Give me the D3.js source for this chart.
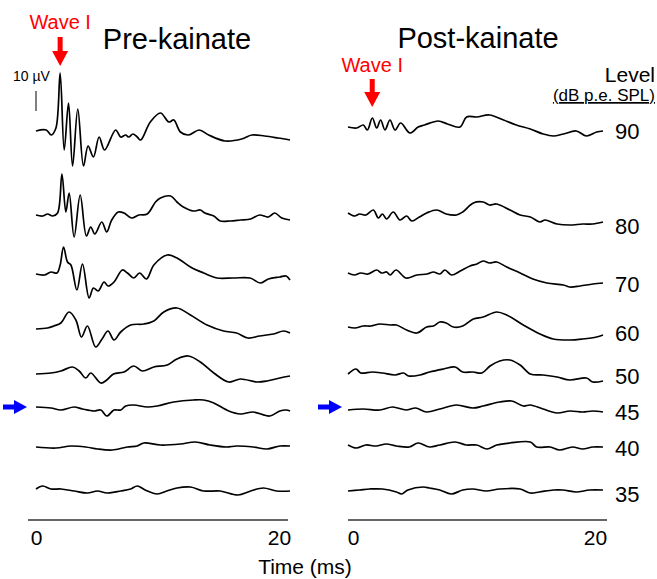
<!DOCTYPE html>
<html>
<head>
<meta charset="utf-8">
<script src="https://cdn.jsdelivr.net/npm/d3@7"></script>
<style>
  body { margin: 0; background: #fff; }
  text { font-family: Arial, "Liberation Sans", sans-serif; }
</style>
</head>
<body>
<svg id="chart" width="657" height="579"></svg>
<script>
"use strict";

// sound levels (dB p.e. SPL), top to bottom
var levels = [90, 80, 70, 60, 50, 45, 40, 35]
var timeTicks = [0, 20]
var waveI = 1.9        // ms, latency marked by the red arrows
var scaleBarUv = 10

// traces as [time (ms), amplitude (µV)]
var pre90 = [[0,-1],[0.8,-0.5],[1.2,-3],[1.57,0.5],[1.9,28],[2.22,-10.5],[2.56,13],[2.88,-18.5],[3.29,10],[3.74,-18.5],[4.1,-8.5],[4.52,-14],[4.97,-4],[5.4,-10.5],[6.27,-0.5],[6.67,-4],[7.06,-3],[7.3,-4],[7.63,-2.5],[7.97,-4],[8.24,-5.5],[9.0,3.5],[9.8,8],[10.46,3.5],[10.85,4.5],[11.37,-1.5],[12.0,-3],[12.86,-0.5],[13.6,-3],[14.9,-6],[16.2,-5],[17.0,-3],[18.0,-3.5],[19.06,-4.5],[20,-5.5]]
var pre80 = [[0,-0.5],[0.52,-1],[0.91,0],[1.31,-1],[1.7,0.5],[2.04,20],[2.35,1],[2.61,10.5],[3.0,-11.5],[3.48,9.5],[3.97,-11],[4.31,-6.5],[4.63,-10],[5.18,-4],[5.57,-9],[5.96,-3],[6.48,1],[6.93,0.5],[7.53,-2],[8.1,-0.5],[8.76,0],[9.41,6],[9.8,8],[10.6,9],[11.1,6],[11.6,3.5],[12.4,1.5],[12.94,2],[13.3,0.5],[14.0,-1],[14.5,-3.5],[15.3,-3.5],[16.1,-3],[16.9,-2.5],[17.6,-0.5],[18.3,-1.5],[18.8,0.5],[19.35,-2],[20,-3]]
var pre70 = [[0,0],[0.65,-0.5],[1.18,1],[1.65,0.5],[1.9,4.5],[2.17,13.5],[2.48,6],[2.75,4.5],[3.22,-8],[3.66,5],[4.18,-12],[4.52,-7],[4.89,-8.5],[5.36,-4],[5.67,-6],[6.14,-4],[6.8,2],[7.2,0.5],[7.7,-2],[8.16,0.5],[8.7,-2.5],[9.28,4.5],[10.33,9.5],[11.1,8],[12.16,3.5],[13.2,0.5],[14.25,-2],[15.55,-2],[16.86,-2],[17.65,-4.5],[18.3,-2.5],[19.2,-1.5],[19.7,-1],[20,-3]]
var pre60 = [[0,-0.5],[0.9,0],[1.4,1],[1.96,2.5],[2.6,8],[3.14,4],[3.58,-4.5],[4.05,1],[4.7,-9.5],[5.2,-5.5],[5.67,-1.5],[6.14,-6],[6.67,-2],[7.45,1.5],[8.5,2],[9.28,3.5],[10.06,8],[11.1,10],[12.16,6.5],[13.47,1.5],[14.77,-1.5],[15.8,-2.5],[16.7,-5],[17.6,-4],[18.7,-3],[19.5,-1.5],[20,-2.5]]
var pre50 = [[0,0],[1.18,0.5],[1.96,1.5],[2.88,3.5],[3.4,1.5],[3.92,-2],[4.31,0.5],[5.1,-4.5],[5.57,-3],[6.1,0],[6.93,1],[7.7,4],[8.37,1.5],[9.28,3.5],[10.33,4.5],[11.1,7.5],[12.0,9],[12.94,6],[14.0,0.5],[15.17,-4],[16.1,-2.5],[17.4,-4],[18.2,-3.5],[19.2,-2],[20,-1]]
var pre45 = [[0,0.5],[1.18,0],[1.96,-1],[3.0,0.5],[3.66,-0.5],[4.57,-1.5],[5.1,-1],[5.57,-4],[6.14,-1],[6.67,-1],[7.06,1],[7.7,1.5],[8.76,0.5],[9.54,1],[10.85,3],[12.4,4],[13.2,4],[14.0,2.5],[15.17,-1.5],[16.1,-3],[17.1,-2],[18.4,-4],[19.2,-1.5],[19.7,-1],[20,-1.5]]
var pre40 = [[0,-0.5],[1.57,-1],[2.75,0],[3.92,-0.5],[4.84,-1.5],[6.0,-2],[7.2,-0.5],[7.97,0],[8.5,1.5],[9.8,0.5],[11.37,1],[12.55,2],[13.7,0.5],[15.0,-0.5],[15.8,0],[17.1,-0.5],[18.2,-1.5],[19.2,0],[20,0]]
var pre35 = [[0,0.5],[0.52,2],[1.18,0.5],[1.96,0.5],[3.0,-0.5],[4.05,-1.5],[4.84,-0.5],[5.6,-1.5],[6.67,-0.5],[7.45,0.5],[7.97,2],[8.6,0],[9.54,-2],[10.3,-0.5],[11.1,1],[12.16,1.5],[13.2,-0.5],[14.5,-0.5],[15.9,-2.5],[16.9,-0.5],[17.9,1],[18.95,-0.5],[20,-0.5]]

var post90 = [[0,1],[0.68,0.5],[1.2,2],[1.52,-0.5],[1.91,5.5],[2.25,0.5],[2.56,4.5],[2.9,-0.5],[3.29,4.5],[3.69,-0.5],[4.13,3],[4.86,-2],[5.5,1],[6.0,2],[7.08,4],[7.8,2.5],[8.78,1],[9.3,6],[10.1,6],[11.1,7],[12.2,4.5],[13.2,2],[14.3,0],[15.3,-2.5],[16.1,-3.5],[16.9,-2.5],[17.9,-1],[18.7,-3.5],[19.5,-1.5],[20,-1]]
var post80 = [[0,0.5],[0.52,-1],[0.9,0],[1.4,-0.5],[1.99,2],[2.38,-2],[2.7,0],[3.03,-2.5],[3.55,1],[4.08,-3],[4.6,-1],[5.0,-3.5],[5.6,-1.5],[6.17,0.5],[6.95,2],[7.7,0],[8.5,-0.5],[9.0,1],[9.83,5.5],[10.6,6],[11.1,4.5],[11.66,5],[12.7,2],[13.5,-0.5],[14.3,-1.5],[15.06,-4],[15.45,-3],[16.4,-5],[17.4,-5.5],[18.4,-5],[19.2,-5],[20,-4]]
var post70 = [[0,0.5],[0.5,-0.5],[1.0,0.5],[1.57,0],[2.25,2],[2.64,0.5],[3.03,1],[3.3,-0.5],[3.77,2],[4.55,-2],[5.4,-0.5],[6.2,0],[6.7,1],[7.2,0],[7.6,2],[8.13,-0.5],[8.8,1.5],[9.57,4],[10.1,5],[10.6,6.5],[11.1,5.5],[11.66,6],[12.45,3.5],[13.5,0.5],[14.5,-2.5],[15.6,-4.5],[16.9,-5.5],[17.4,-6.5],[18.2,-6],[19.2,-5],[20,-4.5]]
var post60 = [[0,0.5],[0.55,0],[1.2,1],[1.8,1],[2.5,2],[3.3,1.5],[3.8,1.5],[4.6,-1],[5.4,-2.5],[6.17,0.5],[6.7,1],[7.2,3],[7.7,2.5],[8.26,0.5],[9.0,1],[9.83,4.5],[10.6,5.5],[11.66,8],[12.45,6.5],[13.75,1.5],[15.06,-3],[16.1,-5.5],[17.4,-6],[18.4,-5.5],[19.5,-4.5],[20,-3.5]]
var post50 = [[0,0],[0.63,2.5],[1.0,0.5],[1.9,1],[2.7,0.5],[3.7,-0.5],[4.35,0.5],[4.75,-1],[5.65,-0.5],[6.4,1],[7.5,2.5],[8.4,3.5],[9.0,1],[9.8,1],[10.5,0.5],[11.14,4],[11.9,6.5],[12.7,7],[13.5,4.5],[14.3,0],[15.3,-0.5],[16.4,-1.5],[17.4,-3],[18.7,-2],[19.2,-4],[20,-3.5]]
var post45 = [[0,-1],[1.2,-0.5],[2.5,-1],[3.5,0.5],[4.55,-1],[5.3,0],[6.17,-2],[7.2,-0.5],[8.5,1.5],[9.8,0],[10.6,1],[11.9,3],[12.84,3.5],[13.75,1],[14.3,1.5],[15.3,-0.5],[16.4,-2.5],[17.4,-1.5],[18.4,-2],[19.2,-1.5],[20,-2]]
var post40 = [[0,0.5],[0.65,-1],[1.4,0.5],[2.2,0],[3.0,1],[3.8,0],[4.8,-0.5],[5.5,1.5],[6.4,-0.5],[7.2,0.5],[8.4,2],[9.3,0.5],[10.1,0.5],[10.9,-1.5],[11.66,0.5],[12.7,1.5],[14.3,2],[14.8,-0.5],[15.85,-0.5],[16.6,-2],[17.6,-0.5],[18.4,-1.5],[19.2,-0.5],[20,-0.5]]
var post35 = [[0,-0.5],[0.9,0],[1.7,0.5],[2.7,0.5],[3.8,-1],[4.2,-2],[4.7,0],[5.9,1.5],[6.4,1],[7.2,0],[8.1,-2],[9.0,0],[9.8,0.5],[10.85,-0.5],[11.9,0.5],[13.5,0.5],[14.3,-1.5],[15.0,-1],[16.1,0],[16.85,0],[17.9,-1],[18.95,0],[20,0]]

var preTraces = [pre90, pre80, pre70, pre60, pre50, pre45, pre40, pre35]
var postTraces = [post90, post80, post70, post60, post50, post45, post40, post35]

// layout
var rowY = [129, 214, 274, 328, 374, 408, 446, 490]
var labelY = [131, 226, 284, 333, 376, 412, 448, 494]
var pxPerTenUv = 20
var axisY = 520

var panels = [
  { title: "Pre-kainate", titleX: 177, titleY: 49, traces: preTraces,
    range: [36, 290], tickRange: [36, 279], line: [28, 288],
    waveTextY: 29, arrowTop: 37, arrowTip: 66, blueX: 3 },
  { title: "Post-kainate", titleX: 478, titleY: 48, traces: postTraces,
    range: [348, 603], tickRange: [353, 595], line: [348, 607],
    waveTextY: 72, arrowTop: 79, arrowTip: 107, blueX: 318 }
]

var svg = d3.select("#chart")

panels.forEach(function(p) { drawPanel(svg, p) })
drawLevels(svg)

/**
 * Draw one column of stacked waveforms with its title, arrows and time axis.
 */
function drawPanel(svg, p) {
  var x = d3.scaleLinear().domain([0, 20]).range(p.range)
  var g = svg.append("g")

  g.append("text")
    .attr("x", p.titleX)
    .attr("y", p.titleY)
    .attr("text-anchor", "middle")
    .style("font-size", "29px")
    .text(p.title)

  g.selectAll("path.trace")
    .data(p.traces)
    .enter()
    .append("path")
      .attr("class", "trace")
      .attr("fill", "none")
      .attr("stroke", "#000")
      .attr("stroke-width", 1.7)
      .attr("stroke-linejoin", "round")
      .attr("d", function(d, i) {
        var y = d3.scaleLinear().domain([0, 10]).range([rowY[i], rowY[i] - pxPerTenUv])
        return d3.line()
          .x(function(e) { return x(e[0]) })
          .y(function(e) { return y(e[1]) })
          .curve(d3.curveCatmullRom.alpha(0.5))(d)
      })

  // wave I marker
  var ax = x(waveI)
  g.append("text")
    .attr("x", ax)
    .attr("y", p.waveTextY)
    .attr("text-anchor", "middle")
    .attr("fill", "#ff0000")
    .style("font-size", "20px")
    .text("Wave I")
  g.append("path")
    .attr("fill", "#ff0000")
    .attr("d", "M" + (ax - 2.5) + "," + p.arrowTop + "V" + (p.arrowTip - 15) +
      "H" + (ax - 8) + "L" + ax + "," + p.arrowTip + "L" + (ax + 8) + "," + (p.arrowTip - 15) +
      "H" + (ax + 2.5) + "V" + p.arrowTop + "Z")

  // threshold marker at 45 dB
  var by = rowY[levels.indexOf(45)] - 1
  g.append("path")
    .attr("fill", "#0000ff")
    .attr("d", "M" + p.blueX + "," + (by - 2.5) + "H" + (p.blueX + 11) + "V" + (by - 7) +
      "L" + (p.blueX + 24) + "," + by + "L" + (p.blueX + 11) + "," + (by + 7) +
      "V" + (by + 2.5) + "H" + p.blueX + "Z")

  // time axis
  var tickScale = d3.scaleLinear().domain([0, 20]).range(p.tickRange)
  var axis = g.append("g")
    .attr("transform", "translate(0," + axisY + ")")
    .call(d3.axisBottom(tickScale).tickValues(timeTicks).tickSize(0).tickPadding(10))
  axis.select(".domain")
    .attr("d", "M" + p.line[0] + ",0H" + p.line[1])
    .attr("stroke", "#333")
    .attr("stroke-width", 1.5)
  axis.selectAll("text")
    .attr("fill", "#000")
    .style("font-size", "21px")
    .style("font-family", "Arial, 'Liberation Sans', sans-serif")
}

/**
 * Level labels, header and the amplitude scale bar.
 */
function drawLevels(svg) {
  svg.append("g")
    .selectAll("text")
    .data(levels)
    .enter()
    .append("text")
      .attr("x", 615)
      .attr("y", function(d, i) { return labelY[i] })
      .attr("dy", "0.36em")
      .style("font-size", "22px")
      .text(function(d) { return d })

  svg.append("text")
    .attr("x", 655).attr("y", 82)
    .attr("text-anchor", "end")
    .style("font-size", "21px")
    .text("Level")
  svg.append("text")
    .attr("x", 655).attr("y", 101)
    .attr("text-anchor", "end")
    .attr("text-decoration", "underline")
    .style("font-size", "17px")
    .text("(dB p.e. SPL)")

  var bar = d3.scaleLinear().domain([0, scaleBarUv]).range([111, 111 - pxPerTenUv])
  svg.append("line")
    .attr("x1", 36).attr("x2", 36)
    .attr("y1", bar(0)).attr("y2", bar(scaleBarUv))
    .attr("stroke", "#000")
    .attr("stroke-width", 1)
  svg.append("text")
    .attr("x", 13).attr("y", 81)
    .style("font-size", "14px")
    .text(scaleBarUv + " µV")

  svg.append("text")
    .attr("x", 305).attr("y", 574)
    .attr("text-anchor", "middle")
    .style("font-size", "21px")
    .text("Time (ms)")
}
</script>
</body>
</html>
